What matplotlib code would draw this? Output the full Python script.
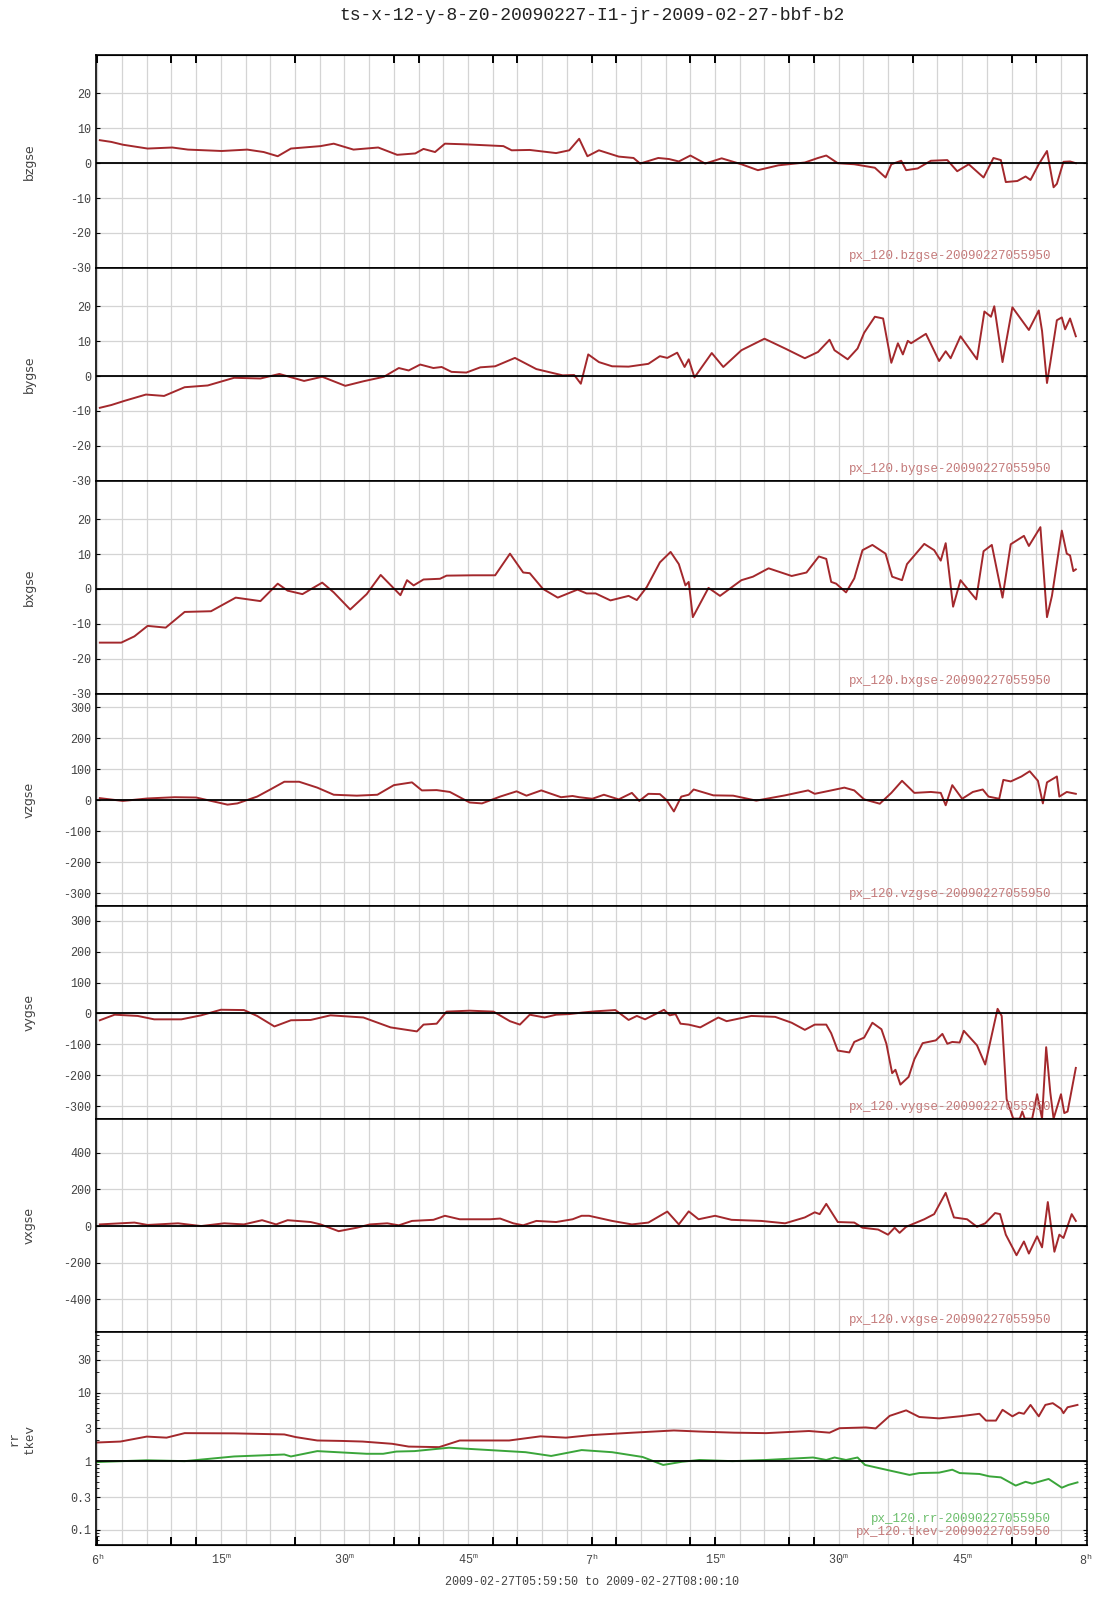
import numpy as np
import matplotlib.pyplot as plt
from matplotlib.ticker import FixedLocator, LogLocator, NullFormatter

plt.rcParams['font.family'] = 'Liberation Mono'
plt.rcParams['mathtext.fontset'] = 'custom'
plt.rcParams['mathtext.rm'] = 'Liberation Mono'
plt.rcParams['mathtext.it'] = 'Liberation Mono'
plt.rcParams['axes.unicode_minus'] = False

# time axis: minutes after 06:00 UT
title = "ts-x-12-y-8-z0-20090227-I1-jr-2009-02-27-bbf-b2"
span_text = "2009-02-27T05:59:50 to 2009-02-27T08:00:10"

bz_t = [0.3, 1.7, 3.1, 6.1, 9.1, 11.0, 15.1, 18.2, 20.2, 21.9, 23.5, 27.1, 28.7, 31.1, 34.1, 36.4,
        38.6, 39.6, 41.0, 42.2, 44.8, 49.3, 50.3, 52.5, 55.7, 57.3, 58.5, 59.5, 60.9, 63.3, 65.1,
        65.9, 68.1, 69.4, 70.6, 72.0, 73.8, 75.8, 78.2, 80.2, 82.7, 85.9, 87.5, 88.5, 89.9, 91.9,
        94.4, 95.7, 96.4, 97.6, 98.2, 99.6, 101.2, 103.2, 104.4, 105.8, 107.6, 108.8, 109.7, 110.3,
        111.7, 112.7, 113.3, 114.3, 115.3, 116.1, 116.5, 117.3, 118.1, 118.8]
bz = [6.6, 6.1, 5.3, 4.2, 4.5, 3.9, 3.5, 3.9, 3.2, 2.0, 4.2, 4.9, 5.6, 3.9, 4.5, 2.4,
      2.8, 4.1, 3.2, 5.6, 5.4, 4.9, 3.7, 3.8, 2.9, 3.7, 7.0, 2.0, 3.7, 1.9, 1.5,
      -0.1, 1.5, 1.2, 0.5, 2.2, -0.1, 1.4, -0.3, -2.0, -0.6, 0.2, 1.5, 2.2, 0.0, -0.3,
      -1.3, -4.1, -0.3, 0.7, -2.0, -1.5, 0.7, 0.9, -2.3, -0.3, -4.1, 1.5, 0.9, -5.4,
      -5.1, -3.8, -4.8, -0.3, 3.5, -6.9, -5.9, 0.4, 0.5, 0.0]

by_t = [0.3, 1.7, 3.3, 5.9, 8.1, 10.6, 13.4, 16.6, 19.8, 22.1, 25.1, 27.3, 30.1, 32.3, 34.8, 36.6,
        37.8, 39.2, 40.8, 41.8, 43.0, 44.8, 46.5, 48.3, 50.7, 53.3, 56.5, 57.9, 58.7, 59.6, 60.9,
        62.5, 64.5, 66.9, 68.3, 69.2, 70.4, 71.3, 71.8, 72.5, 74.6, 76.0, 78.2, 81.0, 83.5, 85.9,
        87.5, 88.9, 89.5, 91.1, 92.3, 93.1, 94.4, 95.4, 96.4, 97.2, 97.8, 98.4, 98.8, 100.6, 102.2,
        103.0, 103.6, 104.8, 106.8, 107.7, 108.5, 108.9, 109.9, 111.1, 113.1, 114.3, 114.7, 115.3,
        115.7, 116.5, 117.1, 117.5, 118.1, 118.8]
by = [-9.1, -8.3, -7.1, -5.3, -5.7, -3.2, -2.7, -0.5, -0.7, 0.6, -1.4, -0.2, -2.8, -1.5, -0.2, 2.3,
      1.6, 3.3, 2.3, 2.6, 1.2, 1.0, 2.5, 2.8, 5.2, 2.0, 0.2, 0.3, -2.2, 6.2, 4.0,
      2.8, 2.7, 3.5, 5.7, 5.2, 6.7, 2.6, 4.8, -0.4, 6.6, 2.6, 7.4, 10.7, 7.9, 5.1,
      6.9, 10.4, 7.4, 4.8, 7.9, 12.4, 17.0, 16.5, 3.8, 9.4, 6.2, 10.1, 9.4, 12.1, 4.3,
      7.1, 5.1, 11.4, 4.8, 18.5, 17.0, 20.0, 4.0, 19.7, 13.2, 18.8, 12.9, -2.0,
      3.8, 16.0, 16.8, 13.4, 16.5, 11.4]

bx_t = [0.3, 2.9, 4.5, 6.1, 8.3, 10.6, 13.8, 16.8, 19.8, 21.9, 23.1, 24.9, 27.3, 28.7, 30.7, 32.7,
        34.4, 36.8, 37.6, 38.4, 39.6, 41.6, 42.4, 45.6, 48.3, 50.1, 51.7, 52.5, 54.1, 55.9, 58.3,
        59.4, 60.5, 62.3, 64.5, 65.5, 66.7, 68.3, 69.6, 70.6, 71.4, 71.8, 72.3, 74.2, 75.6, 78.2,
        79.6, 81.5, 84.3, 86.1, 87.6, 88.5, 89.1, 89.7, 90.9, 91.9, 92.9, 94.1, 95.7, 96.5, 97.7,
        98.3, 100.4, 101.6, 102.4, 103.0, 103.9, 104.8, 106.7, 107.6, 108.6, 109.9, 110.9, 112.5,
        113.1, 114.5, 115.3, 115.9, 117.1, 117.7, 118.1, 118.5, 118.8]
bx = [-15.4, -15.4, -13.6, -10.6, -11.1, -6.6, -6.4, -2.5, -3.5, 1.5, -0.5, -1.5, 1.8, -1.0, -5.9, -1.5,
      4.0, -1.8, 2.5, 1.0, 2.7, 2.9, 3.8, 3.9, 3.9, 10.1, 4.7, 4.5, 0.0, -2.5, -0.2,
      -1.3, -1.3, -3.3, -2.0, -3.2, 0.5, 7.6, 10.6, 7.1, 1.0, 2.0, -8.1, 0.3, -2.0, 2.5,
      3.5, 5.9, 3.7, 4.7, 9.3, 8.6, 2.0, 1.5, -1.0, 3.0, 11.1, 12.6, 10.1, 3.5, 2.5,
      7.1, 12.9, 11.1, 8.1, 13.1, -5.1, 2.5, -3.0, 10.8, 12.6, -2.5, 12.8, 15.2,
      12.3, 17.7, -8.1, -2.0, 16.7, 10.1, 9.6, 5.1, 5.6]

vz_t = [0.3, 3.1, 6.1, 9.4, 12.0, 15.8, 17.0, 19.4, 21.0, 22.7, 24.5, 26.7, 28.7, 31.5, 34.0, 36.0,
        38.2, 39.4, 41.2, 42.8, 45.2, 46.7, 48.9, 50.9, 52.1, 53.9, 56.3, 57.7, 58.5, 60.1, 61.5,
        63.3, 64.9, 65.8, 66.9, 68.3, 69.1, 70.0, 70.9, 71.8, 72.4, 74.8, 77.2, 80.0, 83.5, 86.3,
        87.1, 89.1, 90.7, 91.9, 93.1, 95.0, 96.4, 97.7, 99.2, 101.2, 102.4, 103.0, 103.8, 105.0,
        106.3, 107.5, 108.2, 109.5, 110.0, 110.9, 112.2, 113.2, 114.2, 114.8, 115.3, 116.5, 116.8,
        117.7, 118.8]
vz = [7, -2, 6, 10, 9, -14, -10, 12, 35, 60, 60, 41, 18, 15, 18, 49,
      58, 32, 33, 27, -7, -10, 12, 29, 15, 32, 10, 14, 10, 5, 18,
      3, 24, -2, 21, 20, 1, -36, 12, 18, 35, 16, 15, -1, 16, 32,
      21, 32, 41, 32, 3, -11, 24, 63, 24, 27, 24, -16, 49, 5,
      27, 35, 12, 5, 66, 61, 77, 94, 63, -10, 58, 77, 12,
      27, 21]

vy_t = [0.3, 2.1, 4.9, 6.9, 10.2, 12.6, 15.0, 17.8, 19.4, 21.5, 23.5, 25.9, 28.3, 32.3, 35.6, 38.8,
        39.6, 41.2, 42.4, 45.2, 48.1, 50.1, 51.3, 52.5, 54.3, 55.7, 57.3, 58.9, 60.5, 62.9, 64.5,
        65.5, 66.5, 68.8, 69.5, 70.2, 70.8, 71.8, 73.2, 75.4, 76.4, 79.4, 82.3, 84.3, 85.9, 87.1,
        88.5, 89.1, 89.9, 91.3, 91.9, 93.1, 94.1, 95.2, 95.8, 96.5, 96.9, 97.5, 98.5, 99.2, 100.2,
        101.8, 102.6, 103.2, 103.8, 104.7, 105.2, 106.8, 107.8, 109.3, 109.8, 110.4, 111.2, 112.0,
        112.3, 112.6, 113.5, 114.1, 114.7, 115.2, 115.7, 116.1, 117.0, 117.4, 117.8, 118.8]
vy = [-22, -4, -8, -19, -19, -6, 12, 11, -8, -42, -22, -21, -6, -13, -45, -58,
      -36, -33, 6, 9, 6, -25, -36, -4, -13, -4, -2, 3, 7, 11, -21,
      -8, -19, 12, -6, -2, -33, -36, -45, -13, -25, -8, -11, -30, -53, -36,
      -36, -64, -120, -126, -92, -78, -30, -51, -98, -193, -182, -230, -205, -148, -96,
      -87, -66, -98, -92, -94, -56, -103, -165, 15, -8, -277, -340, -340,
      -317, -340, -340, -261, -340, -109, -255, -340, -261, -322, -317, -176]

vx_t = [0.3, 4.5, 6.1, 9.8, 12.6, 15.4, 17.8, 20.0, 21.7, 23.1, 25.9, 27.1, 29.3, 31.5, 33.1, 35.2,
        36.6, 38.2, 40.8, 42.2, 44.0, 47.7, 48.9, 50.5, 51.7, 53.3, 55.7, 57.7, 58.8, 59.7, 62.5,
        64.9, 66.9, 69.2, 70.6, 71.8, 73.0, 75.0, 77.0, 80.6, 83.5, 85.9, 87.1, 87.7, 88.5, 89.9,
        91.9, 92.9, 94.8, 96.0, 96.8, 97.4, 98.2, 100.4, 101.6, 103.0, 104.0, 105.6, 106.8, 107.8,
        109.0, 109.6, 110.3, 111.6, 112.5, 113.1, 114.1, 114.7, 115.4, 116.2, 116.8, 117.3, 118.3,
        118.8]
vx = [9, 19, 6, 15, 0, 15, 9, 32, 9, 32, 22, 9, -28, -9, 9, 15,
      4, 28, 34, 56, 37, 37, 41, 15, 4, 28, 22, 37, 56, 56, 28,
      9, 19, 79, 9, 80, 37, 56, 34, 28, 15, 47, 75, 65, 121, 22,
      19, -9, -19, -47, -9, -37, -4, 37, 65, 181, 47, 37, -4, 15,
      71, 65, -47, -159, -84, -150, -56, -116, 131, -140, -47, -65, 65,
      28]

tkev_t = [0.0, 2.8, 6.0, 8.4, 10.6, 16.6, 22.7, 24.1, 26.7, 29.7, 32.2, 35.8, 37.8, 41.5, 44.0,
          50.0, 53.8, 56.9, 60.0, 65.0, 70.0, 73.1, 77.3, 81.2, 86.4, 88.9, 90.1, 93.3, 94.5,
          96.2, 98.2, 99.8, 102.2, 104.7, 107.1, 107.9, 109.1, 109.9, 111.1, 111.9, 112.5, 113.3,
          114.3, 115.1, 116.0, 117.0, 117.3, 117.8, 119.0]
tkev = [1.87, 1.93, 2.28, 2.2, 2.56, 2.54, 2.45, 2.24, 2.0, 1.97, 1.93, 1.79, 1.63, 1.6, 2.0,
        2.0, 2.3, 2.2, 2.4, 2.6, 2.8, 2.7, 2.6, 2.56, 2.75, 2.6, 3.02, 3.1, 3.0,
        4.57, 5.5, 4.4, 4.2, 4.5, 4.9, 3.9, 3.9, 5.6, 4.5, 5.1, 4.9, 6.6,
        4.5, 6.6, 7.0, 5.8, 5.0, 6.1, 6.6]

rr_t = [0.0, 6.0, 10.6, 16.6, 22.7, 23.5, 26.7, 32.7, 34.7, 36.3, 38.5, 42.7, 47.6, 52.0, 55.1,
        58.8, 62.5, 66.2, 68.7, 71.0, 73.1, 77.1, 81.2, 86.9, 88.5, 89.5, 90.9, 92.3, 93.2,
        96.2, 98.6, 99.8, 102.2, 103.8, 104.7, 107.1, 108.3, 109.7, 111.5, 112.7, 113.5, 115.5,
        117.1, 117.9, 119.0]
rr = [0.97, 1.03, 1.0, 1.17, 1.25, 1.17, 1.4, 1.28, 1.28, 1.38, 1.4, 1.57, 1.45, 1.35, 1.19,
      1.45, 1.35, 1.15, 0.88, 0.98, 1.04, 1.0, 1.04, 1.13, 1.04, 1.13, 1.04, 1.13, 0.88,
      0.73, 0.63, 0.67, 0.68, 0.75, 0.67, 0.65, 0.6, 0.58, 0.44, 0.5, 0.47, 0.55,
      0.41, 0.45, 0.49]

names = ["bzgse", "bygse", "bxgse", "vzgse", "vygse", "vxgse"]
series = [(bz_t, bz), (by_t, by), (bx_t, bx), (vz_t, vz), (vy_t, vy), (vx_t, vx)]
ylims = [(-30, 31), (-30, 31), (-30, 31), (-343, 345), (-342, 346), (-578, 582)]
yticks = [np.arange(-30, 21, 10)] * 3 + [np.arange(-300, 301, 100)] * 2 + [np.arange(-400, 401, 200)]

RED = "#a3282c"
GREEN = "#3aa53a"
GRID = "#d4d4d4"
TXT = "#444444"

fig = plt.figure(figsize=(11.07, 16), dpi=100)
axes = fig.subplots(7, 1, sharex=True,
                    gridspec_kw=dict(hspace=0, left=0.0867, right=0.982, top=0.9656, bottom=0.0344))

for ax in axes:
    ax.set_xlim(-1 / 6, 120 + 1 / 6)
    ax.set_xticks(np.arange(0, 121, 15))
    ax.set_xticks(np.arange(0, 121, 3), minor=True)
    ax.grid(True, which='both', axis='x', color=GRID, lw=0.9)
    ax.grid(True, which='major', axis='y', color=GRID, lw=0.9)
    ax.set_axisbelow(True)
    ax.tick_params(axis='x', which='both', length=0, labelbottom=False)
    ax.tick_params(axis='y', which='both', direction='in', left=True, right=True,
                   length=3, labelsize=8.5, labelcolor=TXT)
    for s in ax.spines.values():
        s.set_linewidth(1.2)

for ax, name, (t, v), yl, yt in zip(axes[:6], names, series, ylims, yticks):
    ax.plot(t, v, color=RED, lw=1.4)
    ax.axhline(0, color='k', lw=1.3)
    ax.set_ylim(*yl)
    ax.set_yticks(yt)
    ax.set_ylabel(name, family='DejaVu Sans', fontsize=9, color=TXT)
    ax.yaxis.set_label_coords(-0.061, 0.5)
    ax.text(0.964, 0.057, "px_120.%s-20090227055950" % name, transform=ax.transAxes,
            ha='right', va='center', fontsize=9, color="#c47a7a")

# log panel
ax = axes[6]
ax.set_yscale('log')
ax.plot(tkev_t, tkev, color=RED, lw=1.4)
ax.plot(rr_t, rr, color=GREEN, lw=1.4)
ax.axhline(1, color='k', lw=1.3)
ax.set_ylim(0.06, 76)
ax.yaxis.set_major_locator(FixedLocator([0.1, 0.3, 1, 3, 10, 30]))
ax.set_yticklabels(["0.1", "0.3", "1", "3", "10", "30"])
ax.yaxis.set_minor_locator(LogLocator(subs=np.arange(2, 10)))
ax.yaxis.set_minor_formatter(NullFormatter())
ax.tick_params(axis='y', which='minor', length=2)
ax.set_ylabel("rr\ntkev", fontsize=9, color=TXT, linespacing=1.3)
ax.yaxis.set_label_coords(-0.061, 0.5)
ax.text(0.964, 0.12, "px_120.rr-20090227055950", transform=ax.transAxes,
        ha='right', va='center', fontsize=9, color="#6cbf6c")
ax.text(0.964, 0.063, "px_120.tkev-20090227055950", transform=ax.transAxes,
        ha='right', va='center', fontsize=9, color="#c47a7a")

xlabels = ["6$^{h}$", "15$^{m}$", "30$^{m}$", "45$^{m}$", "7$^{h}$",
           "15$^{m}$", "30$^{m}$", "45$^{m}$", "8$^{h}$"]
ax.set_xticklabels(xlabels)
ax.tick_params(axis='x', which='major', labelbottom=True, labelsize=8.5, labelcolor=TXT, pad=6)

# small tick marks along the outer top and bottom edges
edge_ticks = [0, 9, 12, 24, 36, 39, 48, 51, 60, 63, 72, 75, 84, 87, 99, 111, 114]
top = axes[0].secondary_xaxis('top')
top.set_xticks(edge_ticks, labels=[])
top.tick_params(direction='in', length=6, width=1.4, color='black')
top.set_zorder(5)
bot = axes[6].secondary_xaxis('bottom')
bot.set_xticks(edge_ticks, labels=[])
bot.tick_params(direction='in', length=6, width=1.4, color='black')
bot.set_zorder(5)

fig.text(0.535, 1 - 15 / 1600, title, ha='center', va='center', fontsize=13, color='#222222')
fig.text(0.535, 1 - 1582 / 1600, span_text, ha='center', va='center', fontsize=8.5, color=TXT)

fig.savefig("out.png", dpi=100)
